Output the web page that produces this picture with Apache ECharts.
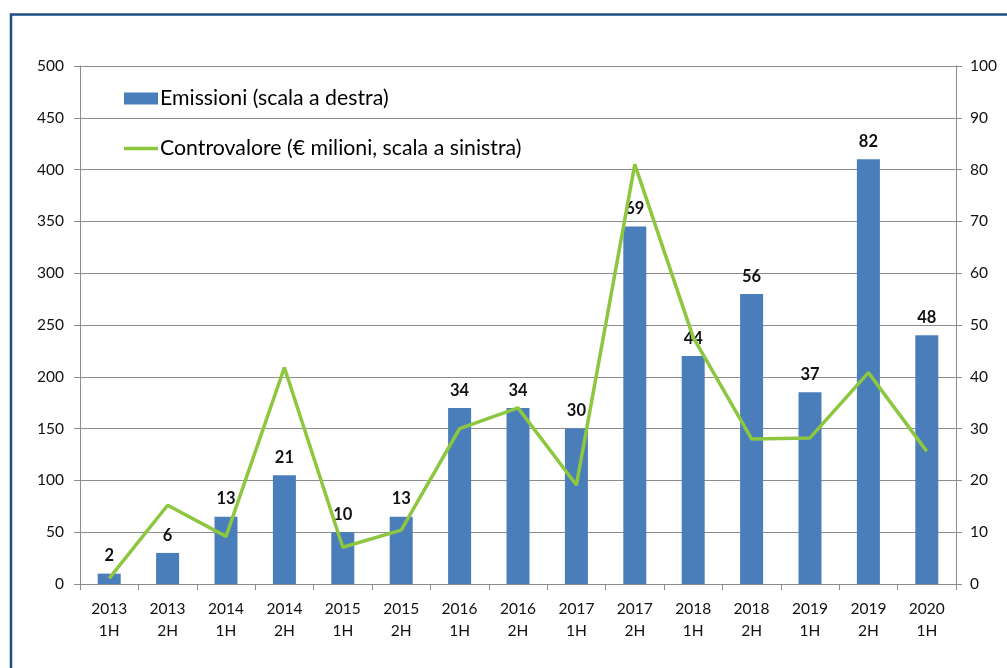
<!DOCTYPE html>
<html>
<head>
<meta charset="utf-8">
<script src="https://cdn.jsdelivr.net/npm/echarts@6/dist/echarts.min.js"></script>
<style>html,body{margin:0;padding:0;background:#fff}#c{width:1007px;height:668px}</style>
</head>
<body>
<div id="c"></div>
<script>
const categories = ['2013\n1H','2013\n2H','2014\n1H','2014\n2H','2015\n1H','2015\n2H','2016\n1H','2016\n2H','2017\n1H','2017\n2H','2018\n1H','2018\n2H','2019\n1H','2019\n2H','2020\n1H'];
const emissioni = [2, 6, 13, 21, 10, 13, 34, 34, 30, 69, 44, 56, 37, 82, 48];
const controvalore = [5.5, 76, 46, 209, 35.5, 52, 150, 170, 95.5, 405, 238, 140, 141, 204, 128];
const leftTicks = {min: 0, max: 500, interval: 50};
const rightTicks = {min: 0, max: 100, interval: 10};
const nameBar = 'Emissioni (scala a destra)';
const nameLine = 'Controvalore (€ milioni, scala a sinistra)';

const FONT = 'Lato';
const chart = echarts.init(document.getElementById('c'), null, {renderer: 'canvas'});
const gray = '#8c8c8c';
const legendText = {fontFamily: FONT, fontSize: 21.3, color: '#000', padding: [0,0,0,-3]};
chart.setOption({
  animation: false,
  textStyle: {fontFamily: FONT},
  graphic: [{
    type: 'rect', z: 100, silent: true,
    shape: {x: 11, y: 14.5, width: 1200, height: 900},
    style: {fill: 'none', stroke: '#1F4E87', lineWidth: 2.5}
  }],
  legend: [
    {left: 124, top: 88, itemWidth: 34, itemHeight: 12, itemGap: 0, padding: 0,
     textStyle: legendText,
     data: [{name: nameBar, icon: 'rect'}]},
    {left: 124, top: 138, itemWidth: 34, itemHeight: 12, itemGap: 0, padding: 0,
     textStyle: legendText,
     data: [{name: nameLine, icon: 'path://M0 0H34V3.5H0Z'}]}
  ],
  grid: {left: 80, right: 51, top: 66, bottom: 84, containLabel: false},
  xAxis: {
    type: 'category', data: categories,
    axisLine: {lineStyle: {color: gray, width: 1}},
    axisTick: {show: true, length: 6, lineStyle: {color: gray}},
    axisLabel: {fontFamily: FONT, fontSize: 15.5, color: '#111', lineHeight: 22, margin: 14, interval: 0}
  },
  yAxis: [
    {type: 'value', position: 'left', min: leftTicks.min, max: leftTicks.max, interval: leftTicks.interval,
     axisLine: {show: true, lineStyle: {color: gray}},
     axisTick: {show: true, length: 6, lineStyle: {color: gray}},
     splitLine: {show: true, lineStyle: {color: gray, width: 1}},
     axisLabel: {fontFamily: FONT, fontSize: 15.5, color: '#111', margin: 16}},
    {type: 'value', position: 'right', min: rightTicks.min, max: rightTicks.max, interval: rightTicks.interval,
     axisLine: {show: true, lineStyle: {color: gray}},
     axisTick: {show: true, length: 6, lineStyle: {color: gray}},
     splitLine: {show: false},
     axisLabel: {fontFamily: FONT, fontSize: 15.5, color: '#111', margin: 14}}
  ],
  series: [
    {name: nameBar, type: 'bar', yAxisIndex: 1, data: emissioni, barWidth: 23,
     itemStyle: {color: '#4A7EBB'},
     label: {show: true, position: 'top', distance: 9, fontFamily: FONT, fontWeight: 'bold', fontSize: 16.5, color: '#111'}},
    {name: nameLine, type: 'line', yAxisIndex: 0, data: controvalore, symbol: 'none',
     lineStyle: {color: '#8DC63F', width: 3.5}, itemStyle: {color: '#8DC63F'}, z: 5}
  ]
});
</script>
</body>
</html>
